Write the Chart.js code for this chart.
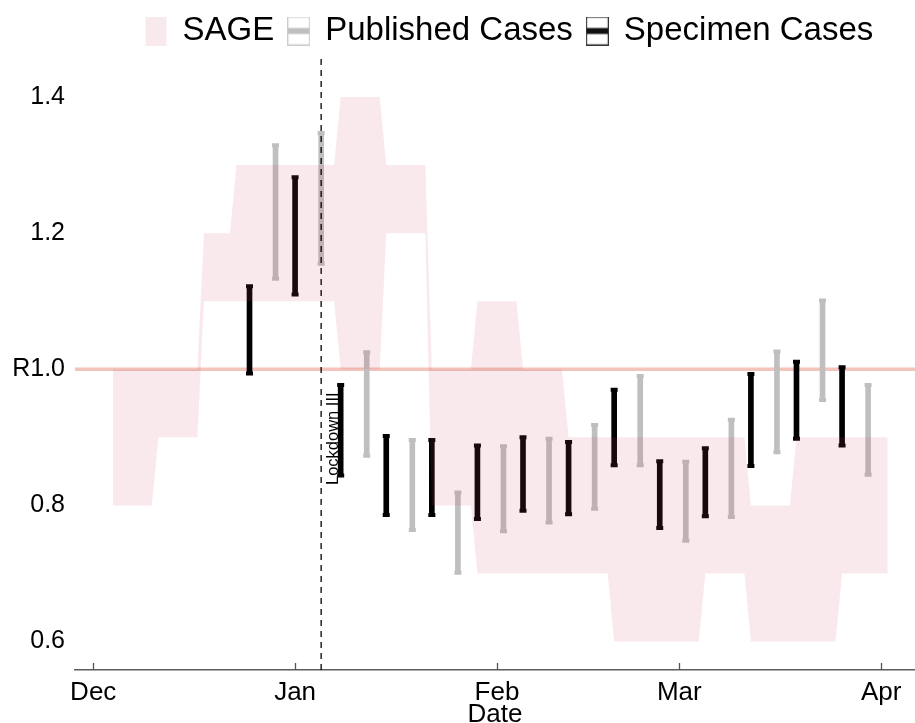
<!DOCTYPE html>
<html>
<head>
<meta charset="utf-8">
<script src="https://cdn.jsdelivr.net/npm/chart.js@4"></script>
<style>
  html, body { margin: 0; padding: 0; background: #fff; }
</style>
</head>
<body>
<canvas id="rChart" width="915" height="723"></canvas>
<script>
// x axis is in days counted from 1 Dec
const xTickValues = [0, 31, 62, 90, 121];
const xTickLabels = ['Dec', 'Jan', 'Feb', 'Mar', 'Apr'];
const yTickValues = [0.6, 0.8, 1.0, 1.2, 1.4];
const yTickLabels = ['0.6', '0.8', 'R1.0', '1.2', '1.4'];

// SAGE range, one entry per window
const sageStart = [3, 10, 17, 22, 38, 45, 52, 59, 66, 73, 80, 94, 101, 108, 115];
const sageEnd   = [9, 16, 21, 37, 44, 51, 58, 65, 72, 79, 93, 100, 107, 114, 122];
const sageLow   = [0.8, 0.9, 1.1, 1.1, 1.0, 1.2, 0.8, 0.7, 0.7, 0.7, 0.6, 0.7, 0.6, 0.6, 0.7];
const sageHigh  = [1.0, 1.0, 1.2, 1.3, 1.4, 1.3, 1.0, 1.1, 1.0, 0.9, 0.9, 0.9, 0.8, 0.9, 0.9];

// Published cases (grey)
const pubDays = [28, 35, 42, 49, 56, 63, 70, 77, 84, 91, 98, 105, 112, 119];
const pubLow  = [1.133, 1.155, 0.873, 0.764, 0.701, 0.762, 0.775, 0.795, 0.859, 0.748, 0.783, 0.878, 0.955, 0.845];
const pubHigh = [1.329, 1.347, 1.025, 0.896, 0.819, 0.887, 0.898, 0.918, 0.990, 0.864, 0.926, 1.026, 1.101, 0.977];

// Specimen cases (black)
const specDays = [24, 31, 38, 45, 52, 59, 66, 73, 80, 87, 94, 101, 108, 115];
const specLow  = [0.994, 1.110, 0.844, 0.786, 0.786, 0.780, 0.792, 0.787, 0.859, 0.767, 0.784, 0.858, 0.898, 0.888];
const specHigh = [1.122, 1.282, 0.977, 0.902, 0.896, 0.888, 0.900, 0.893, 0.970, 0.865, 0.884, 0.993, 1.011, 1.003];

const lockdownDay = 35;
const lockdownLabel = 'Lockdown III';
const legendLabels = ['SAGE', 'Published Cases', 'Specimen Cases'];

const X_MIN = -2.8, X_MAX = 126.2;
const Y_MIN = 0.5582, Y_MAX = 1.4581;
const FONT = '"Liberation Sans", Arial, Helvetica, sans-serif';
const SAGE_FILL = 'rgba(205, 70, 100, 0.12)';
const SAGE_SWATCH = 'rgb(248, 233, 236)';
const PUB_COLOR = '#bfbfbf';
const SPEC_COLOR = '#000000';
const LEGEND_SHIFT = 131.5;

// corners of the stepped ribbon
function bandPoints(values) {
    const pts = [];
    sageStart.forEach((s, i) => {
        pts.push({ x: s, y: values[i] });
        pts.push({ x: sageEnd[i], y: values[i] });
    });
    return pts;
}

function barPoints(days, lo, hi) {
    return days.map((d, i) => ({ x: d, y: [lo[i], hi[i]] }));
}

function capPoints(days, lo, hi) {
    const pts = [];
    days.forEach((d, i) => {
        pts.push({ x: d, y: lo[i] });
        pts.push({ x: d, y: hi[i] });
    });
    return pts;
}

// legend markers
function legendMarker(kind) {
    const c = document.createElement('canvas');
    c.width = 23;
    c.height = 29;
    const g = c.getContext('2d');
    if (kind === 'sage') {
        g.fillStyle = SAGE_SWATCH;
        g.fillRect(1, 0, 21, 29);
    } else {
        g.fillStyle = '#fff';
        g.fillRect(0, 0, 23, 29);
        g.strokeStyle = kind === 'pub' ? '#cccccc' : '#333333';
        g.lineWidth = 1.2;
        g.strokeRect(0.6, 0.6, 21.8, 27.8);
        g.fillStyle = kind === 'pub' ? PUB_COLOR : '#111111';
        g.fillRect(1, 11.5, 21, 6);
    }
    return c;
}
const legendMarkers = [legendMarker('sage'), legendMarker('pub'), legendMarker('spec')];

const decorations = {
    id: 'decorations',
    afterLayout(chart) {
        chart.legend.left += LEGEND_SHIFT;
        chart.legend.right += LEGEND_SHIFT;
    },
    afterDatasetsDraw(chart) {
        const { ctx, chartArea, scales: { x, y } } = chart;
        ctx.save();
        // tick marks point into the plot
        ctx.strokeStyle = '#555';
        ctx.lineWidth = 1.3;
        xTickValues.forEach(v => {
            const px = Math.round(x.getPixelForValue(v)) + 0.5;
            ctx.beginPath();
            ctx.moveTo(px, chartArea.bottom);
            ctx.lineTo(px, chartArea.bottom - 7);
            ctx.stroke();
        });
        // lockdown label
        ctx.translate(x.getPixelForValue(lockdownDay) + 12.5, y.getPixelForValue(0.898));
        ctx.rotate(-Math.PI / 2);
        ctx.font = '16.5px ' + FONT;
        ctx.fillStyle = '#000';
        ctx.textAlign = 'center';
        ctx.textBaseline = 'middle';
        ctx.fillText(lockdownLabel, 0, 0);
        ctx.restore();
    }
};

new Chart(document.getElementById('rChart'), {
    type: 'line',
    data: {
        datasets: [
            {
                label: 'R1.0',
                data: [{ x: X_MIN, y: 1 }, { x: X_MAX, y: 1 }],
                borderColor: '#f2c4bb',
                borderWidth: 3.5,
                pointRadius: 0,
                order: 7
            },
            {
                type: 'bar',
                label: legendLabels[1],
                data: barPoints(pubDays, pubLow, pubHigh),
                backgroundColor: PUB_COLOR,
                borderWidth: 0,
                borderSkipped: false,
                barThickness: 5,
                grouped: false,
                order: 6
            },
            {
                type: 'bar',
                label: legendLabels[2],
                data: barPoints(specDays, specLow, specHigh),
                backgroundColor: SPEC_COLOR,
                borderWidth: 0,
                borderSkipped: false,
                barThickness: 5,
                grouped: false,
                order: 5
            },
            {
                label: 'pub caps',
                data: capPoints(pubDays, pubLow, pubHigh),
                showLine: false,
                pointStyle: 'line',
                pointRadius: 3.5,
                pointBorderWidth: 4,
                pointBorderColor: PUB_COLOR,
                order: 4
            },
            {
                label: 'spec caps',
                data: capPoints(specDays, specLow, specHigh),
                showLine: false,
                pointStyle: 'line',
                pointRadius: 3.5,
                pointBorderWidth: 4,
                pointBorderColor: SPEC_COLOR,
                order: 3
            },
            {
                label: 'SAGE low',
                data: bandPoints(sageLow),
                borderWidth: 0,
                borderColor: 'transparent',
                pointRadius: 0,
                fill: false,
                order: 2
            },
            {
                label: legendLabels[0],
                data: bandPoints(sageHigh),
                borderWidth: 0,
                borderColor: 'transparent',
                pointRadius: 0,
                fill: '-1',
                backgroundColor: SAGE_FILL,
                order: 1
            },
            {
                label: lockdownLabel,
                data: [{ x: lockdownDay, y: Y_MIN }, { x: lockdownDay, y: Y_MAX }],
                borderColor: '#000',
                borderWidth: 1.3,
                borderDash: [6, 5],
                pointRadius: 0,
                order: 0
            }
        ]
    },
    options: {
        responsive: false,
        animation: false,
        events: [],
        devicePixelRatio: 1,
        layout: { autoPadding: false, padding: { top: 0, left: 0, right: 0, bottom: 0 } },
        plugins: {
            tooltip: { enabled: false },
            legend: {
                position: 'top',
                align: 'start',
                labels: {
                    usePointStyle: true,
                    pointStyleWidth: 20,
                    boxHeight: 28,
                    padding: 14.5,
                    color: '#000',
                    font: { size: 33, family: FONT },
                    generateLabels: () => legendLabels.map((text, i) => ({
                        text: text,
                        pointStyle: legendMarkers[i],
                        fillStyle: 'transparent',
                        strokeStyle: 'transparent',
                        lineWidth: 0,
                        hidden: false,
                        datasetIndex: [6, 1, 2][i]
                    }))
                }
            }
        },
        scales: {
            x: {
                type: 'linear',
                min: X_MIN,
                max: X_MAX,
                offset: false,
                grid: { display: false, drawTicks: false },
                border: { display: true, color: '#5c5c5c', width: 1.4 },
                afterBuildTicks: s => { s.ticks = xTickValues.map(v => ({ value: v })); },
                afterFit: s => {
                    s.height = 53;
                    s.paddingLeft = 0;
                    s.paddingRight = 0;
                },
                ticks: {
                    padding: 10,
                    color: '#000',
                    autoSkip: false,
                    maxRotation: 0,
                    font: { size: 26, family: FONT, lineHeight: 1 },
                    callback: (v, i) => xTickLabels[i]
                },
                title: {
                    display: true,
                    text: 'Date',
                    color: '#000',
                    font: { size: 26, family: FONT, lineHeight: 1 },
                    padding: { top: 0, bottom: -5 }
                }
            },
            y: {
                min: Y_MIN,
                max: Y_MAX,
                grid: { display: false, drawTicks: false },
                border: { display: false },
                afterBuildTicks: s => { s.ticks = yTickValues.map(v => ({ value: v })); },
                afterFit: s => { s.width = 75; },
                ticks: {
                    padding: 10,
                    color: '#000',
                    font: { size: 25, family: FONT },
                    callback: (v, i) => yTickLabels[i]
                }
            }
        }
    },
    plugins: [decorations]
});
</script>
</body>
</html>
